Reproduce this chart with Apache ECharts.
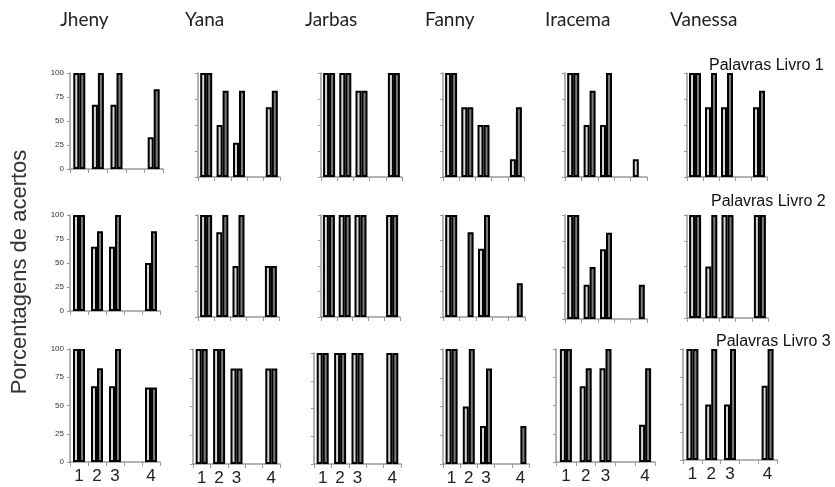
<!DOCTYPE html>
<html>
<head>
<meta charset="utf-8">
<script src="https://cdn.jsdelivr.net/npm/echarts@6/dist/echarts.min.js"></script>
<style>
  html, body { margin: 0; padding: 0; background: #fff; }
  #chart { width: 835px; height: 487px; }
</style>
</head>
<body>
<div id="chart"></div>
<script>
// categorias (a 4a posicao fica vazia)
var cats = ['1', '2', '3', '', '4'];
var people = ['Jheny', 'Yana', 'Jarbas', 'Fanny', 'Iracema', 'Vanessa'];
var books = ['Palavras Livro 1', 'Palavras Livro 2', 'Palavras Livro 3'];
var yTicks = [0, 25, 50, 75, 100];

// valores por pessoa, categorias 1..4 (barra clara / barra escura)
var light1 = [[100, 67, 67, 33], [100, 50, 33, 67], [100, 100, 83, 100], [100, 67, 50, 17], [100, 50, 50, 17], [100, 67, 67, 67]];
var dark1  = [[100, 100, 100, 83], [100, 83, 83, 83], [100, 100, 83, 100], [100, 67, 50, 67], [100, 83, 100, 0], [100, 100, 100, 83]];
var light2 = [[100, 67, 67, 50], [100, 83, 50, 50], [100, 100, 100, 100], [100, 0, 67, 0], [100, 33, 67, 0], [100, 50, 100, 100]];
var dark2  = [[100, 83, 100, 83], [100, 100, 100, 50], [100, 100, 100, 100], [100, 83, 100, 33], [100, 50, 83, 33], [100, 100, 100, 100]];
var light3 = [[100, 67, 67, 66], [100, 100, 83, 83], [100, 100, 100, 100], [100, 50, 33, 0], [100, 67, 83, 33], [100, 50, 50, 67]];
var dark3  = [[100, 83, 100, 66], [100, 100, 83, 83], [100, 100, 100, 100], [100, 100, 83, 33], [100, 83, 100, 83], [100, 100, 100, 100]];

var lightAll = [light1, light2, light3];
var darkAll = [dark1, dark2, dark3];

// posicao de cada painel [left, top, width, height]
var boxes = [
  [[70, 73, 93, 96], [198, 73, 82, 104], [321, 73, 81, 104], [443, 73, 81, 104], [565, 73, 82, 104], [687, 73, 80, 104]],
  [[70, 215, 90, 96], [198, 215, 81, 102], [321, 215, 79, 102], [443, 215, 82, 102], [565, 215, 82, 104], [687, 215, 81, 103]],
  [[70, 349, 90, 113], [193, 349, 87, 117], [314, 353, 87, 114], [443, 349, 86, 117], [556, 349, 99, 113], [683, 349, 94, 111]]
];
var titleX = [60, 185, 305, 425, 545, 670];
var bookPos = [[709, 66], [711, 202], [716, 342]];

function toSeries(vals) {
  // insere a posicao vazia e esconde os zeros
  var out = [];
  for (var i = 0; i < vals.length; i++) {
    if (i === 3) out.push('-');
    out.push(vals[i] === 0 ? '-' : vals[i]);
  }
  return out;
}

var grids = [], xAxes = [], yAxes = [], series = [], graphics = [];
var axisGray = '#9a9a9a';

for (var r = 0; r < 3; r++) {
  for (var c = 0; c < 6; c++) {
    var idx = r * 6 + c;
    var b = boxes[r][c];
    grids.push({ left: b[0], top: b[1], width: b[2], height: b[3], containLabel: false });
    xAxes.push({
      type: 'category', gridIndex: idx, data: cats,
      axisLine: { lineStyle: { color: axisGray, width: 1.5 } },
      axisTick: { show: true, length: 4, lineStyle: { color: axisGray } },
      axisLabel: { show: r === 2, interval: 0, fontSize: 17, color: '#222', margin: 6, fontFamily: 'Liberation Sans' }
    });
    yAxes.push({
      type: 'value', gridIndex: idx, min: yTicks[0], max: yTicks[yTicks.length - 1], interval: 25,
      splitLine: { show: false },
      axisLine: { show: true, lineStyle: { color: axisGray, width: 1.5 } },
      axisTick: { show: true, length: 3, lineStyle: { color: axisGray } },
      axisLabel: { show: c === 0, fontSize: 8, color: '#333', margin: 6, fontFamily: 'Liberation Sans' }
    });
    series.push({
      type: 'bar', xAxisIndex: idx, yAxisIndex: idx, barWidth: 6, barGap: '0%',
      data: toSeries(lightAll[r][c]),
      itemStyle: { color: '#d6d6d6', borderColor: '#000', borderWidth: 2 },
      silent: true
    });
    series.push({
      type: 'bar', xAxisIndex: idx, yAxisIndex: idx, barWidth: 6, barGap: '0%',
      data: toSeries(darkAll[r][c]),
      itemStyle: { color: '#7a7a7a', borderColor: '#000', borderWidth: 2 },
      silent: true
    });
  }
  graphics.push({
    type: 'text', x: bookPos[r][0], y: bookPos[r][1],
    style: { text: books[r], fontSize: 16, fontFamily: 'Liberation Sans', fill: '#111', verticalAlign: 'middle' }
  });
}

for (var p = 0; p < people.length; p++) {
  graphics.push({
    type: 'text', x: titleX[p], y: 20,
    style: { text: people[p], fontSize: 19, fontFamily: 'Lato', fill: '#222', verticalAlign: 'middle' }
  });
}

graphics.push({
  type: 'text', x: 20, y: 272, rotation: Math.PI / 2,
  style: { text: 'Porcentagens de acertos', fontSize: 22, fontFamily: 'Liberation Sans', fill: '#333', align: 'center', verticalAlign: 'middle' }
});

var chart = echarts.init(document.getElementById('chart'), null, { renderer: 'canvas' });
chart.setOption({
  animation: false,
  backgroundColor: '#fff',
  grid: grids,
  xAxis: xAxes,
  yAxis: yAxes,
  series: series,
  graphic: graphics
});
</script>
</body>
</html>
